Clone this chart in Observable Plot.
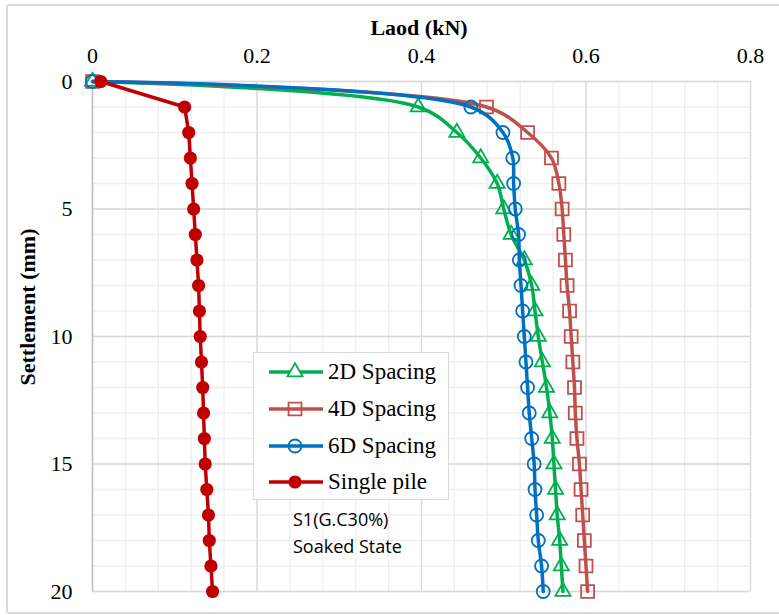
<!DOCTYPE html>
<html><head><meta charset="utf-8">
<script src="https://cdn.jsdelivr.net/npm/d3@7"></script>
<script src="https://cdn.jsdelivr.net/npm/@observablehq/plot@0.6"></script>
<style>
body{margin:0;background:#fff;}
#wrap{position:relative;width:779px;height:615px;overflow:hidden;font-family:"Liberation Serif",serif;background:#fff;}
#border{position:absolute;left:6px;top:4px;width:800px;height:610px;border:2px solid #D9D9D9;border-radius:3px;box-sizing:border-box;}
#chart{position:absolute;left:0;top:0;}
#chart svg text{font-family:"Liberation Serif",serif !important;font-size:22px;fill:#000;}
.title{position:absolute;font-family:"Liberation Serif",serif;font-weight:bold;font-size:22px;color:#000;white-space:nowrap;}
#xtitle{left:419px;top:15px;transform:translateX(-50%);}
#ytitle{left:28px;top:307px;transform:translate(-50%,-50%) rotate(-90deg);}
#legend{position:absolute;left:253px;top:352px;width:196px;height:148px;border:1px solid #D9D9D9;background:#fff;box-sizing:border-box;}
.item{position:absolute;left:14px;height:30px;display:flex;align-items:center;font-family:"Liberation Serif",serif;font-size:23px;color:#000;white-space:nowrap;}
.item svg{margin-right:4px;}
#note{position:absolute;left:293px;top:506px;font-family:"Open Sans",sans-serif;font-size:18px;line-height:27px;color:#000;}
</style></head>
<body>
<div id="wrap">
  <div id="border"></div>
  <div id="chart"></div>
  <div class="title" id="xtitle">Laod (kN)</div>
  <div class="title" id="ytitle">Settlement (mm)</div>
  <div id="legend"></div>
  <div id="note">S1(G.C30%)<br>Soaked State</div>
</div>
<script>
const settlement = [0,1,2,3,4,5,6,7,8,9,10,11,12,13,14,15,16,17,18,19,20];
const load2D = [0,0.396,0.443,0.472,0.492,0.500,0.509,0.525,0.534,0.538,0.542,0.547,0.552,0.556,0.559,0.561,0.563,0.565,0.568,0.570,0.572];
const load4D = [0,0.479,0.529,0.558,0.567,0.571,0.573,0.575,0.577,0.580,0.582,0.584,0.586,0.587,0.589,0.592,0.594,0.596,0.598,0.600,0.602];
const load6D = [0,0.460,0.499,0.511,0.512,0.514,0.518,0.519,0.521,0.523,0.525,0.527,0.529,0.531,0.534,0.537,0.538,0.540,0.542,0.546,0.548];
const loadSingle = [0.010,0.112,0.117,0.119,0.121,0.123,0.125,0.127,0.129,0.130,0.131,0.1325,0.134,0.135,0.136,0.137,0.139,0.141,0.142,0.144,0.146];
const seriesNames = ["2D Spacing","4D Spacing","6D Spacing","Single pile"];
const xTicks = [0,0.2,0.4,0.6,0.8];
const yTicks = [0,5,10,15,20];

const styles = [
  {color:"#00B050", symbol:"triangle", r:5.6, fill:"none", curve:"catmull-rom"},
  {color:"#C0504D", symbol:"square", r:7.3, fill:"none", curve:"catmull-rom"},
  {color:"#0070C0", symbol:"circle", r:6.5, fill:"none", curve:"catmull-rom"},
  {color:"#C00000", symbol:"circle", r:6.6, fill:"#C00000", curve:"linear"}
];
const allLoads = [load2D, load4D, load6D, loadSingle];
const series = seriesNames.map((name,k) => ({name, ...styles[k],
  rows: allLoads[k].map((v,i) => ({load:v, settlement:settlement[i]}))}));

const marks = [
  Plot.gridX(d3.range(0,0.8001,0.04).map(v=>+v.toFixed(2)), {stroke:"#EFEFEF", strokeOpacity:1, strokeWidth:1.3}),
  Plot.gridY(d3.range(0,21,1), {stroke:"#EFEFEF", strokeOpacity:1, strokeWidth:1.3}),
  Plot.gridX(xTicks, {stroke:"#D9D9D9", strokeOpacity:1, strokeWidth:1.3}),
  Plot.gridY(yTicks, {stroke:"#D9D9D9", strokeOpacity:1, strokeWidth:1.3}),
  Plot.ruleX([0], {stroke:"#BFBFBF", strokeWidth:1.5}),
  Plot.axisX(xTicks, {anchor:"top", tickSize:0, tickPadding:19, label:null, fontSize:22, tickFormat:d=>String(d)}),
  Plot.axisY(yTicks, {anchor:"left", tickSize:0, tickPadding:20, label:null, fontSize:22, tickFormat:d=>String(d)})
];
for (const s of series) {
  marks.push(Plot.line(s.rows, {x:"load", y:"settlement", curve:s.curve, stroke:s.color, strokeWidth:3.5}));
  marks.push(Plot.dot(s.rows, {x:"load", y:"settlement", symbol:()=>s.symbol, r:s.r, stroke:s.color, fill:s.fill, strokeWidth:s.fill==="none"?1.8:0}));
}

const chart = Plot.plot({
  width:779, height:615,
  marginLeft:92, marginRight:29, marginTop:81, marginBottom:24,
  x:{domain:[0,0.8]},
  y:{domain:[0,20], reverse:true},
  symbol:{type:"identity"},
  style:{fontFamily:"Liberation Serif", fontSize:"22px", background:"transparent", color:"#000"},
  marks
});
document.getElementById("chart").appendChild(chart);

// legend
const legend = document.getElementById("legend");
series.forEach((s,k) => {
  const div = document.createElement("div");
  div.className = "item";
  div.style.top = (4 + k*36.8) + "px";
  let marker;
  if (s.symbol === "triangle") marker = `<path d="${d3.symbol(d3.symbolTriangle, Math.PI*s.r*s.r)()}" transform="translate(27,15)" fill="#fff" stroke="${s.color}" stroke-width="1.8"/>`;
  else if (s.symbol === "square") marker = `<path d="${d3.symbol(d3.symbolSquare, Math.PI*s.r*s.r)()}" transform="translate(27,15)" fill="none" stroke="${s.color}" stroke-width="1.8"/>`;
  else marker = `<circle cx="27" cy="15" r="${s.r}" fill="${s.fill}" stroke="${s.color}" stroke-width="${s.fill==='none'?1.8:0}"/>`;
  div.innerHTML = `<svg width="56" height="30"><line x1="1" x2="55" y1="15" y2="15" stroke="${s.color}" stroke-width="3.5"/>${marker}</svg><span>${s.name}</span>`;
  legend.appendChild(div);
});
</script>
</body></html>
